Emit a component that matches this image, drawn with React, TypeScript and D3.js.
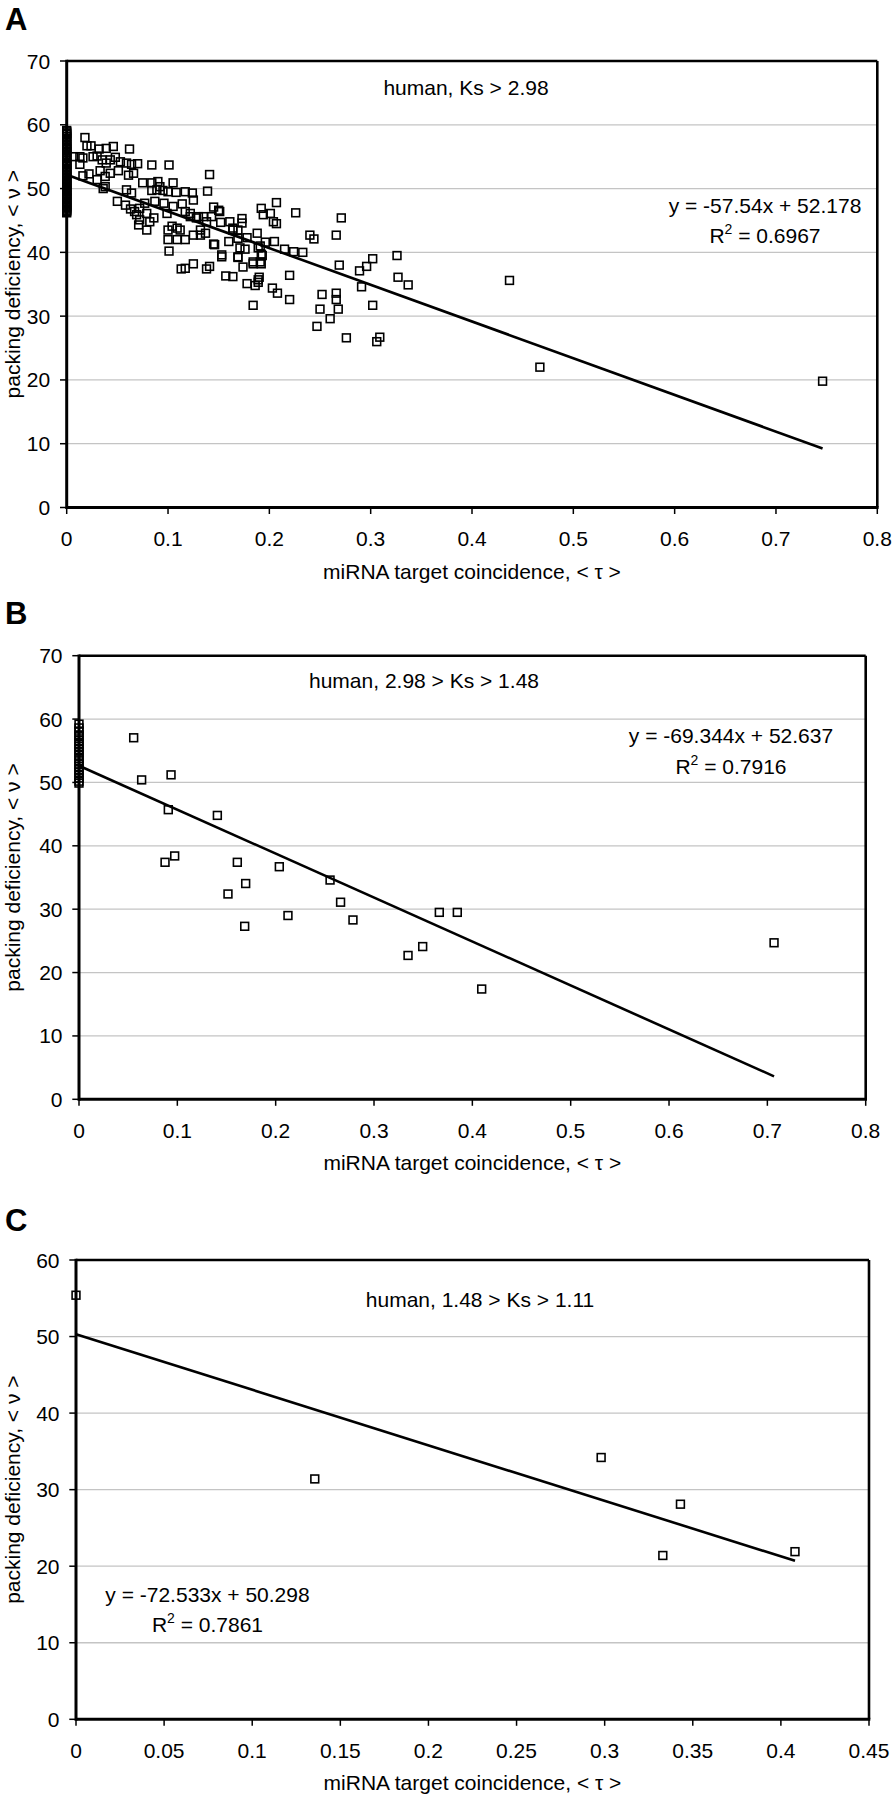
import React from 'react';
import * as d3 from 'd3';

const FONT = '"Liberation Sans", Arial, Helvetica, sans-serif';

// ---------- DATA ----------
const xTicksAB = [0, 0.1, 0.2, 0.3, 0.4, 0.5, 0.6, 0.7, 0.8];
const yTicksAB = [0, 10, 20, 30, 40, 50, 60, 70];
const xTicksC = [0, 0.05, 0.1, 0.15, 0.2, 0.25, 0.3, 0.35, 0.4, 0.45];
const yTicksC = [0, 10, 20, 30, 40, 50, 60];

const xTitle = 'miRNA target coincidence, < \u03C4 >';
const yTitle = 'packing deficiency, < \u03BD >';

const labelA = 'human, Ks > 2.98';
const labelB = 'human, 2.98 > Ks > 1.48';
const labelC = 'human, 1.48 > Ks > 1.11';

const fitA = { slope: -57.54, intercept: 52.178, eq: 'y = -57.54x + 52.178', r2: '0.6967' };
const fitB = { slope: -69.344, intercept: 52.637, eq: 'y = -69.344x + 52.637', r2: '0.7916' };
const fitC = { slope: -72.533, intercept: 50.298, eq: 'y = -72.533x + 50.298', r2: '0.7861' };

// points stacked on tau = 0
const zeroColA = [59.1, 58.9, 58.7, 58.5, 58.2, 57.9, 57.6, 57.4, 57.0, 56.8, 56.5, 56.3, 56.1, 55.9, 55.7, 55.4, 55.2,
  54.9, 54.7, 54.4, 54.1, 53.9, 53.8, 53.5, 53.2, 53.0, 52.8, 52.6, 52.3, 52.1, 51.8, 51.6, 51.3, 51.0, 50.8, 50.6, 50.4,
  50.2, 49.9, 49.7, 49.5, 49.2, 49.0, 48.8, 48.6, 48.4, 48.2, 47.9, 47.7, 47.4, 47.2, 47.0, 46.8, 46.6, 46.4, 46.2];
const zeroColB = [59.2, 58.6, 58.1, 57.5, 57.2, 56.6, 56.1, 55.7, 55.2, 54.8, 54.3, 53.8, 53.4, 52.9, 52.5, 52.0, 51.6, 51.1, 50.7, 50.2, 49.9];
const zeroColC = [55.4];

const pointsA: [number, number][] = [
  [0.018, 58.0], [0.020, 56.7], [0.024, 56.7], [0.032, 56.2], [0.039, 56.3], [0.046, 56.6], [0.062, 56.2],
  [0.007, 55.0], [0.013, 55.0], [0.016, 54.8], [0.026, 55.0], [0.030, 55.1], [0.035, 54.5], [0.039, 54.0], [0.043, 54.5],
  [0.048, 54.9], [0.053, 54.2], [0.059, 54.0], [0.064, 53.8], [0.070, 53.9], [0.013, 53.8], [0.084, 53.7], [0.101, 53.7], [0.141, 52.2],
  [0.022, 52.3], [0.016, 52.0], [0.033, 52.8], [0.043, 52.4], [0.051, 52.8], [0.061, 52.1], [0.066, 52.4], [0.030, 51.4],
  [0.038, 51.9], [0.038, 50.3], [0.036, 50.0], [0.059, 49.8], [0.064, 49.3], [0.075, 50.9], [0.084, 50.9], [0.090, 51.1],
  [0.092, 50.3], [0.105, 50.9], [0.100, 49.5], [0.084, 49.7], [0.089, 49.8], [0.095, 49.7], [0.108, 49.4], [0.117, 49.5],
  [0.124, 49.3], [0.125, 48.2], [0.139, 49.6],
  [0.050, 48.0], [0.058, 47.4], [0.063, 46.8], [0.067, 46.4], [0.072, 46.9], [0.077, 47.7], [0.069, 45.9], [0.072, 45.1],
  [0.071, 44.3], [0.079, 43.5], [0.082, 44.8], [0.086, 45.4], [0.079, 46.1], [0.087, 48.0], [0.096, 47.7], [0.105, 47.2],
  [0.114, 47.6], [0.117, 46.4], [0.099, 46.1], [0.145, 47.1], [0.151, 46.4], [0.152, 44.7], [0.161, 44.8], [0.143, 45.6],
  [0.135, 45.6], [0.128, 45.4], [0.122, 45.6], [0.130, 45.6], [0.138, 44.8], [0.150, 46.6], [0.173, 45.3], [0.122, 46.1],
  [0.104, 44.1], [0.109, 43.8], [0.112, 43.5], [0.100, 43.5], [0.100, 42.0], [0.109, 42.0], [0.117, 42.0], [0.101, 40.2],
  [0.125, 42.7], [0.132, 42.7], [0.132, 43.5], [0.137, 43.0], [0.146, 41.2], [0.145, 41.3], [0.160, 41.7], [0.164, 43.5],
  [0.169, 43.5], [0.169, 42.2], [0.173, 44.6], [0.164, 43.8], [0.178, 42.3], [0.188, 43.0], [0.171, 40.7], [0.176, 40.5],
  [0.191, 41.0], [0.192, 46.9], [0.194, 45.9], [0.201, 46.1], [0.204, 44.8], [0.207, 44.5], [0.207, 47.8], [0.196, 41.6],
  [0.205, 41.7], [0.215, 40.5], [0.226, 46.2], [0.224, 40.1], [0.233, 40.0], [0.240, 42.7], [0.244, 42.1], [0.266, 42.7],
  [0.271, 45.4], [0.189, 40.7], [0.192, 39.7], [0.153, 39.6], [0.169, 39.3],
  [0.113, 37.4], [0.117, 37.5], [0.125, 38.2], [0.138, 37.4], [0.141, 37.8], [0.153, 39.3], [0.157, 36.3], [0.164, 36.2],
  [0.169, 39.2], [0.174, 37.7], [0.178, 35.1], [0.184, 38.2], [0.184, 38.5], [0.191, 38.5], [0.186, 34.8], [0.184, 31.7],
  [0.190, 36.1], [0.189, 35.3], [0.189, 35.7], [0.192, 38.2], [0.193, 39.5], [0.203, 34.4], [0.208, 33.6], [0.220, 36.4],
  [0.220, 32.6], [0.247, 28.4], [0.250, 31.1], [0.252, 33.4], [0.260, 29.6], [0.266, 33.6], [0.266, 32.6], [0.268, 31.1],
  [0.269, 38.0], [0.276, 26.6], [0.289, 37.1], [0.291, 34.6], [0.296, 37.8], [0.302, 39.0], [0.302, 31.7], [0.306, 26.0],
  [0.309, 26.7], [0.326, 39.5], [0.327, 36.1], [0.337, 34.9],
  [0.437, 35.6], [0.467, 22.0], [0.746, 19.8],
];

const pointsB: [number, number][] = [
  [0.0556, 57.05], [0.0637, 50.4], [0.0936, 51.2], [0.0908, 45.7], [0.1407, 44.8],
  [0.0875, 37.4], [0.0973, 38.4], [0.161, 37.4], [0.1515, 32.4], [0.1695, 34.05], [0.1685, 27.3],
  [0.2037, 36.7], [0.2125, 29.0], [0.2553, 34.6], [0.266, 31.1], [0.2786, 28.3], [0.3346, 22.7],
  [0.3495, 24.1], [0.3664, 29.5], [0.3847, 29.5], [0.4095, 17.4], [0.7068, 24.7],
];

const pointsC: [number, number][] = [
  [0.1355, 31.4], [0.298, 34.2], [0.343, 28.1], [0.333, 21.4], [0.408, 21.9],
];

// ---------- LAYOUT ----------
const panels = [
  {
    letter: 'A', letterY: 30,
    left: 66.7, right: 877.3, top: 61, bottom: 507.5,
    xMax: 0.8, yMax: 70, xTicks: xTicksAB, yTicks: yTicksAB,
    points: pointsA, zero: zeroColA, fit: fitA,
    label: labelA, labelX: 466, labelY: 95,
    eqX: 765, eqY: 212.6,
  },
  {
    letter: 'B', letterY: 624,
    left: 79, right: 865.7, top: 655.7, bottom: 1099.3,
    xMax: 0.8, yMax: 70, xTicks: xTicksAB, yTicks: yTicksAB,
    points: pointsB, zero: zeroColB, fit: fitB,
    label: labelB, labelX: 424, labelY: 688,
    eqX: 731, eqY: 743.3,
  },
  {
    letter: 'C', letterY: 1231,
    left: 76, right: 869, top: 1260, bottom: 1719.3,
    xMax: 0.45, yMax: 60, xTicks: xTicksC, yTicks: yTicksC,
    points: pointsC, zero: zeroColC, fit: fitC,
    label: labelC, labelX: 480, labelY: 1306.7,
    eqX: 207.5, eqY: 1602,
  },
];

const fmt = (v: number) => String(+v.toFixed(2));

function Panel({ p }: { p: any }) {
  const x = d3.scaleLinear().domain([0, p.xMax]).range([p.left, p.right]);
  const y = d3.scaleLinear().domain([0, p.yMax]).range([p.bottom, p.top]);
  const all: [number, number][] = [...p.zero.map((v: number) => [0, v] as [number, number]), ...p.points];
  const xEnd = d3.max(all, (d) => d[0]) as number;
  const line = d3.line<number>().x((t) => x(t)).y((t) => y(p.fit.slope * t + p.fit.intercept));
  const s = 7.8;
  const cx = (p.left + p.right) / 2;
  const cy = (p.top + p.bottom) / 2;
  return (
    <g>
      <text x={5} y={p.letterY} fontSize={31} fontWeight="bold" fontFamily={FONT}>{p.letter}</text>
      {/* gridlines */}
      {p.yTicks.filter((t: number) => t > 0 && t < p.yMax).map((t: number) => (
        <line key={'g' + t} x1={p.left} x2={p.right} y1={y(t)} y2={y(t)} stroke="#c4c4c4" strokeWidth={1.3} />
      ))}
      {/* y ticks */}
      {p.yTicks.map((t: number) => (
        <g key={'y' + t}>
          <line x1={p.left - 6.7} x2={p.left} y1={y(t)} y2={y(t)} stroke="#000" strokeWidth={1.5} />
          <text x={p.left - 16.5} y={y(t) + 7.5} textAnchor="end" fontSize={21} fontFamily={FONT}>{fmt(t)}</text>
        </g>
      ))}
      {/* x ticks */}
      {p.xTicks.map((t: number) => (
        <g key={'x' + t}>
          <line x1={x(t)} x2={x(t)} y1={p.bottom} y2={p.bottom + 6.5} stroke="#000" strokeWidth={1.5} />
          <text x={x(t)} y={p.bottom + 38.5} textAnchor="middle" fontSize={21} fontFamily={FONT}>{fmt(t)}</text>
        </g>
      ))}
      {/* frame */}
      <line x1={p.left} x2={p.right} y1={p.top} y2={p.top} stroke="#000" strokeWidth={2.6} />
      <line x1={p.right} x2={p.right} y1={p.top} y2={p.bottom} stroke="#000" strokeWidth={2.6} />
      <line x1={p.left} x2={p.right + 1.3} y1={p.bottom} y2={p.bottom} stroke="#000" strokeWidth={3} />
      <line x1={p.left} x2={p.left} y1={p.top - 1.3} y2={p.bottom + 1.5} stroke="#000" strokeWidth={3} />
      {/* points */}
      {all.map((d, i) => (
        <rect key={'p' + i} x={x(d[0]) - s / 2} y={y(d[1]) - s / 2} width={s} height={s}
          fill="none" stroke="#000" strokeWidth={1.6} />
      ))}
      {/* trend line */}
      <path d={line([0, xEnd]) as string} fill="none" stroke="#000" strokeWidth={2.6} />
      {/* labels */}
      <text x={p.labelX} y={p.labelY} textAnchor="middle" fontSize={21} fontFamily={FONT}>{p.label}</text>
      <text x={p.eqX} y={p.eqY} textAnchor="middle" fontSize={21} fontFamily={FONT}>{p.fit.eq}</text>
      <text x={p.eqX} y={p.eqY + 30.2} textAnchor="middle" fontSize={21} fontFamily={FONT}>
        R<tspan dy={-9} fontSize={14}>2</tspan><tspan dy={9}>{' = ' + p.fit.r2}</tspan>
      </text>
      {/* axis titles */}
      <text x={cx} y={p.bottom + 71} textAnchor="middle" fontSize={21} fontFamily={FONT}>{xTitle}</text>
      <text transform={`translate(20,${cy}) rotate(-90)`} textAnchor="middle" fontSize={21} fontFamily={FONT}>{yTitle}</text>
    </g>
  );
}

export default function App() {
  return (
    <svg width={894} height={1800} viewBox="0 0 894 1800"
      style={{ position: 'absolute', left: 0, top: 0, background: '#fff' }}>
      <rect x={0} y={0} width={894} height={1800} fill="#fff" />
      {panels.map((p) => <Panel key={p.letter} p={p} />)}
    </svg>
  );
}
